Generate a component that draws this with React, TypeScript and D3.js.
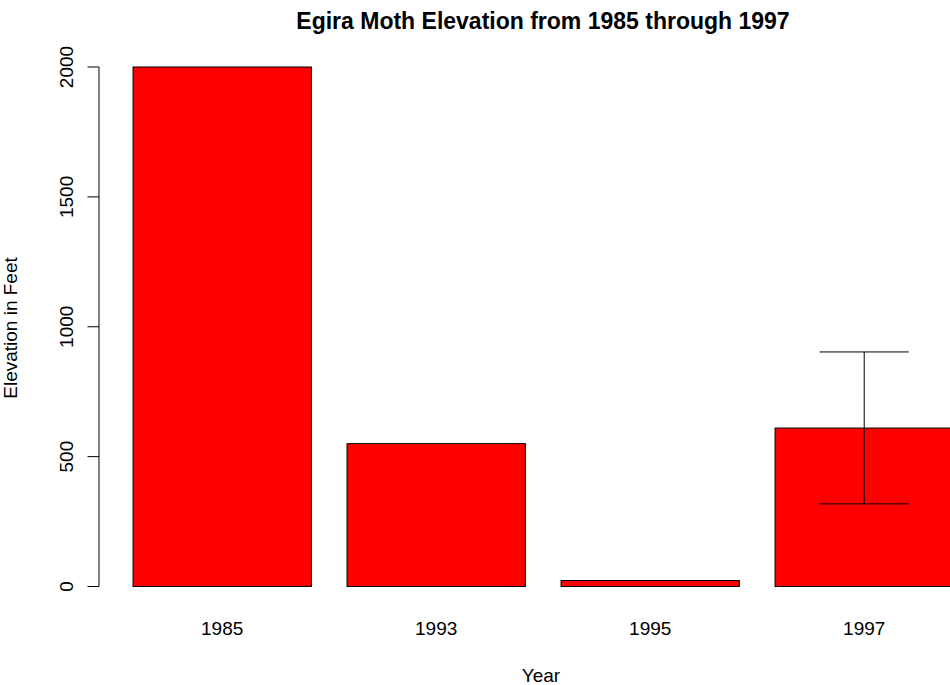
import React from "react";
import * as d3 from "d3";

const years: string[] = ["1985", "1993", "1995", "1997"];
const elevations: number[] = [2000, 550, 23, 610];
const errLow: (number | null)[] = [null, null, null, 318];
const errHigh: (number | null)[] = [null, null, null, 903];
const yTicks: number[] = [0, 500, 1000, 1500, 2000];

const W = 950;
const H = 685;

export default function App() {
  // R barplot layout: width 1, space 0.2 -> bars from 0.2 to 4.8, 4% extension
  const x = d3.scaleLinear().domain([-0.016, 4.984]).range([94.5, 986.2]);
  const y = d3.scaleLinear().domain([0, 2000]).range([586.5, 67]);
  const barL = (i: number) => 0.2 + 1.2 * i;
  const font = "'Liberation Sans', Arial, Helvetica, sans-serif";
  const axisX = 99;
  return (
    <svg width={W} height={H} style={{ position: "absolute", left: 0, top: 0, background: "#fff" }}>
      <rect x={0} y={0} width={W} height={H} fill="#fff" />
      {elevations.map((v, i) => (
        <rect
          key={years[i]}
          x={x(barL(i))}
          y={y(v)}
          width={x(barL(i) + 1) - x(barL(i))}
          height={y(0) - y(v)}
          fill="#FF0000"
          stroke="#000"
          strokeWidth={1}
        />
      ))}
      {elevations.map((v, i) => {
        const lo = errLow[i];
        const hi = errHigh[i];
        if (lo == null || hi == null) return null;
        const c = barL(i) + 0.5;
        return (
          <g key={"e" + i} stroke="#000" strokeWidth={1} fill="none">
            <line x1={x(c)} x2={x(c)} y1={y(lo)} y2={y(hi)} />
            <line x1={x(c - 0.25)} x2={x(c + 0.25)} y1={y(hi)} y2={y(hi)} />
            <line x1={x(c - 0.25)} x2={x(c + 0.25)} y1={y(lo)} y2={y(lo)} />
          </g>
        );
      })}
      {/* y axis */}
      <g stroke="#000" strokeWidth={1} fill="none">
        <line x1={axisX} x2={axisX} y1={y(0)} y2={y(2000)} />
        {yTicks.map((t) => (
          <line key={t} x1={axisX - 11.5} x2={axisX} y1={y(t)} y2={y(t)} />
        ))}
      </g>
      {yTicks.map((t) => (
        <text
          key={"l" + t}
          transform={`translate(73,${y(t)}) rotate(-90)`}
          textAnchor="middle"
          fontFamily={font}
          fontSize={19}
          fill="#000"
        >
          {t}
        </text>
      ))}
      {years.map((yr, i) => (
        <text
          key={"x" + yr}
          x={x(barL(i) + 0.5)}
          y={635}
          textAnchor="middle"
          fontFamily={font}
          fontSize={19}
          fill="#000"
        >
          {yr}
        </text>
      ))}
      <text x={541} y={682} textAnchor="middle" fontFamily={font} fontSize={19} fill="#000">
        Year
      </text>
      <text
        transform={`translate(17,328) rotate(-90)`}
        textAnchor="middle"
        fontFamily={font}
        fontSize={19}
        fill="#000"
      >
        Elevation in Feet
      </text>
      <text x={543} y={29} textAnchor="middle" fontFamily={font} fontSize={23} fontWeight="bold" fill="#000">
        Egira Moth Elevation from 1985 through 1997
      </text>
    </svg>
  );
}
